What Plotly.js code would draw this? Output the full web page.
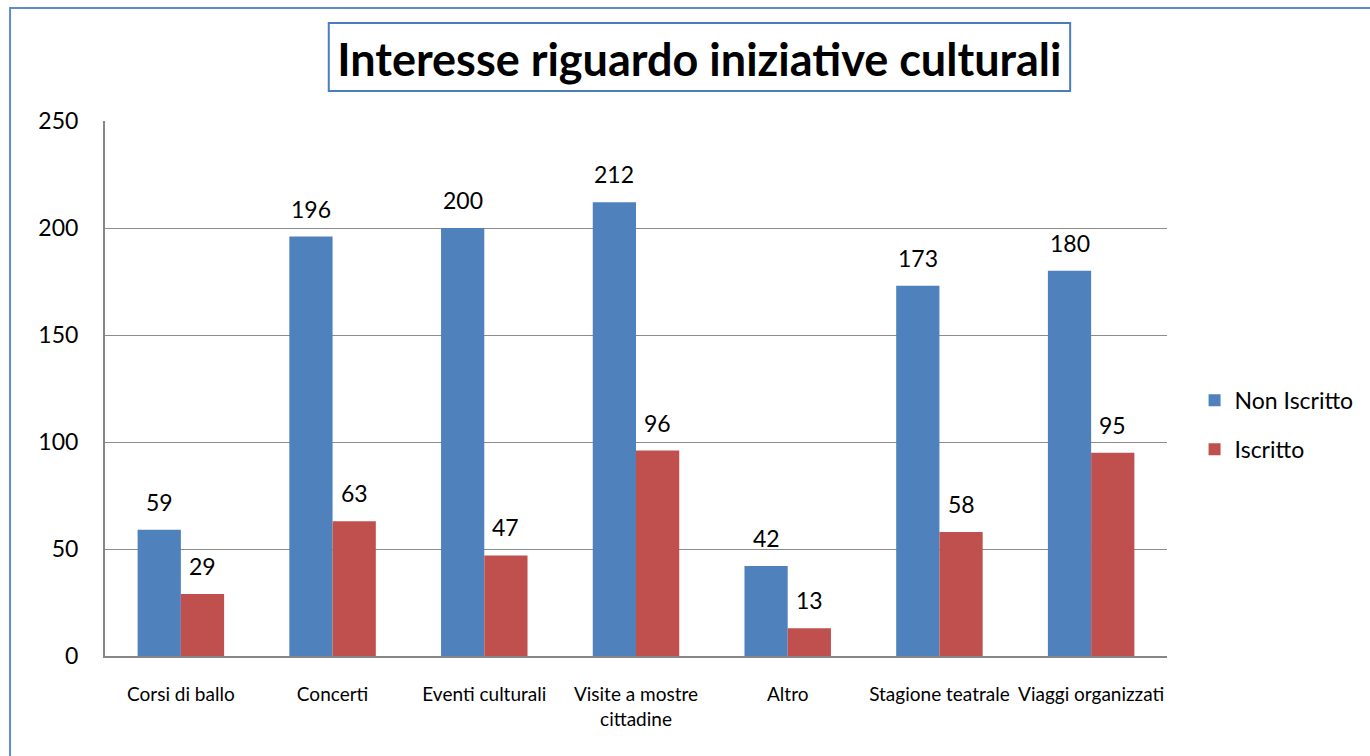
<!DOCTYPE html>
<html>
<head>
<meta charset="utf-8">
<script src="https://cdn.plot.ly/plotly-3.0.1.min.js"></script>
<style>
  html, body { margin: 0; padding: 0; background: #fff; }
  #chart { width: 1370px; height: 756px; }
</style>
</head>
<body>
<div id="chart"></div>
<script>
const categories = ["Corsi di ballo", "Concerti", "Eventi culturali", "Visite a mostre<br>cittadine", "Altro", "Stagione teatrale", "Viaggi organizzati"];
const nonIscritto = [59, 196, 200, 212, 42, 173, 180];
const iscritto = [29, 63, 47, 96, 13, 58, 95];
const yTicks = [0, 50, 100, 150, 200, 250];

const font = "Lato, 'Open Sans', sans-serif";
const bargap = 0.43;
const half = (1 - bargap) / 4; // offset of each bar centre from its category

function barTrace(name, values, color, group) {
    return {
        type: 'bar', name: name, x: categories, y: values,
        marker: {color: color},
        legendgroup: group,
        hoverinfo: 'x+y'
    };
}

const data = [
    barTrace('Non Iscritto', nonIscritto, '#4F81BD', 'a'),
    barTrace('Iscritto', iscritto, '#C0504D', 'b')
];

// value labels a bit above each bar
function labels(values, offset) {
    return values.map((v, i) => ({
        x: i + offset, y: v, xref: 'x', yref: 'y',
        text: String(v), showarrow: false,
        yanchor: 'bottom', yshift: 12,
        font: {family: font, size: 23, color: '#000'}
    }));
}

const layout = {
    width: 1370, height: 756,
    margin: {l: 105, r: 202, t: 121, b: 100},
    paper_bgcolor: '#fff', plot_bgcolor: '#fff',
    font: {family: font, color: '#000'},
    barmode: 'group', bargap: bargap, bargroupgap: 0,
    title: {
        text: '<b>Interesse riguardo iniziative culturali</b>',
        font: {family: font, size: 45, color: '#000'},
        xref: 'paper', x: 0.5597, xanchor: 'center',
        yref: 'paper', y: 1.122, yanchor: 'middle'
    },
    xaxis: {
        showgrid: false, showline: true, linecolor: '#868686', linewidth: 2,
        ticks: '', tickfont: {family: font, size: 19, color: '#000'},
        ticklabelstandoff: 20, automargin: false
    },
    yaxis: {
        range: [0, 250], tickvals: yTicks, showgrid: true, gridcolor: '#8c8c8c', gridwidth: 1,
        showline: true, linecolor: '#868686', linewidth: 2, zeroline: false,
        ticks: '', tickfont: {family: font, size: 23, color: '#000'},
        ticklabelstandoff: 20, automargin: false
    },
    legend: {
        x: 1.025, xanchor: 'left', y: 0.432, yanchor: 'middle',
        font: {family: font, size: 23, color: '#000'},
        tracegroupgap: 16, itemwidth: 30
    },
    annotations: labels(nonIscritto, -half).concat(labels(iscritto, half)),
    shapes: [
        {type: 'rect', xref: 'paper', yref: 'paper', x0: -0.0894, x1: 1.3, y0: -0.3, y1: 1.2112,
         line: {color: '#5B8BD0', width: 2}, layer: 'below'},
        {type: 'rect', xref: 'paper', yref: 'paper', x0: 0.2107, x1: 0.9088, y0: 1.0561, y1: 1.1832,
         line: {color: '#4A7EBB', width: 2}, layer: 'below'}
    ]
};

Plotly.newPlot('chart', data, layout, {displayModeBar: false});
</script>
</body>
</html>
